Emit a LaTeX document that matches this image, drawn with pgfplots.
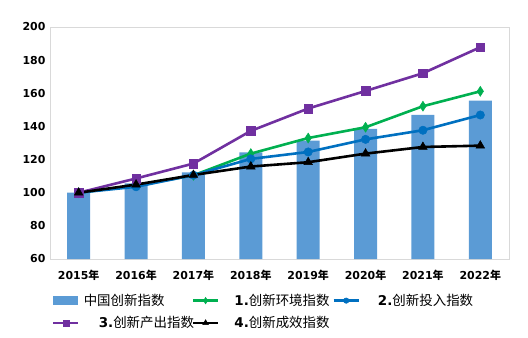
\documentclass[border=0pt]{standalone}
\usepackage{pgfplots}
\pgfplotsset{compat=1.18}
\usepackage{fontspec}
\setmainfont{DejaVu Sans}
\newfontfamily\cjk{Noto Sans CJK SC}
\definecolor{barblue}{HTML}{5B9BD5}
\definecolor{cgreen}{HTML}{00B050}
\definecolor{cblue}{HTML}{0070C0}
\definecolor{cpurple}{HTML}{7030A0}
\definecolor{frame}{HTML}{D9D9D9}
\begin{document}
\begin{tikzpicture}
\useasboundingbox (-50bp,-79bp) rectangle (478bp,259bp);
\begin{axis}[
  anchor=south west, at={(0,0)},
  scale only axis, width=459bp, height=232bp,
  xmin=-0.5, xmax=7.5, ymin=60, ymax=200,
  xtick={0,...,7},
  xticklabels={\textbf{2015{\cjk 年}},\textbf{2016{\cjk 年}},\textbf{2017{\cjk 年}},\textbf{2018{\cjk 年}},\textbf{2019{\cjk 年}},\textbf{2020{\cjk 年}},\textbf{2021{\cjk 年}},\textbf{2022{\cjk 年}}},
  ytick={60,80,...,200},
  yticklabel={\textbf{\pgfmathprintnumber{\tick}}},
  major tick length=0pt,
  axis line style={frame, line width=0.8bp},
  /pgf/number format/assume math mode=true,
  ticklabel style={font=\fontsize{11}{13}\selectfont\bfseries},
  xticklabel style={yshift=-8bp},
  yticklabel style={xshift=-1bp},
  legend columns=3,
  legend cell align=left,
  legend style={draw=none, fill=none, at={(axis description cs:0,0)}, anchor=north west,
    xshift=2bp, yshift=-35bp, font=\fontsize{13.5}{15}\selectfont,
    inner sep=0pt, row sep=9.5bp,
    nodes={inner sep=0pt},
    /tikz/every even column/.append style={column sep=0pt}},
  legend image code/.code={\draw[mark repeat=2,mark phase=2,#1, every mark/.append style={scale=0.65}] plot coordinates {(0bp,0bp) (12.5bp,0bp) (25bp,0bp)};},
]
\addplot[ybar, bar width=23bp, fill=barblue, draw=none,
  legend image code/.code={\fill[barblue] (0bp,-4.5bp) rectangle (25bp,4.5bp);}]
  coordinates {(0,100) (1,105.7) (2,112.2) (3,124.4) (4,131.4) (5,138.5) (6,147.0) (7,155.6)};
\addlegendentry{\makebox[112bp][l]{\hspace{4bp}{\cjk 中国创新指数}}}
\addplot[cgreen, line width=2.6bp, mark=diamond*, mark size=5bp, mark options={solid, fill=cgreen, line width=0.5bp, xscale=0.85}]
  coordinates {(0,100) (1,104.5) (2,110.5) (3,123.6) (4,133.0) (5,139.5) (6,152.2) (7,161.2)};
\addlegendentry{\makebox[113bp][l]{\hspace{15bp}\textbf{1.}{\cjk 创新环境指数}}}
\addplot[cblue, line width=2.6bp, mark=*, mark size=4.2bp, mark options={solid, fill=cblue, line width=0.5bp}]
  coordinates {(0,100) (1,103.6) (2,110.6) (3,120.4) (4,124.6) (5,132.2) (6,137.7) (7,146.9)};
\addlegendentry{\makebox[113bp][l]{\hspace{18bp}\textbf{2.}{\cjk 创新投入指数}}}
\addplot[cpurple, line width=2.6bp, mark=square*, mark size=4.3bp, mark options={solid, fill=cpurple, line width=0.5bp}]
  coordinates {(0,100) (1,108.6) (2,117.6) (3,137.3) (4,150.8) (5,161.4) (6,172.1) (7,187.8)};
\addlegendentry{\makebox[112bp][l]{\hspace{19bp}\textbf{3.}{\cjk 创新产出指数}}}
\addplot[black, line width=2.6bp, mark=triangle*, mark size=5bp, mark options={solid, fill=black, line width=0.5bp}]
  coordinates {(0,100) (1,104.9) (2,110.7) (3,115.8) (4,118.4) (5,123.6) (6,127.6) (7,128.4)};
\addlegendentry{\makebox[113bp][l]{\hspace{15bp}\textbf{4.}{\cjk 创新成效指数}}}
\end{axis}
\end{tikzpicture}
\end{document}
